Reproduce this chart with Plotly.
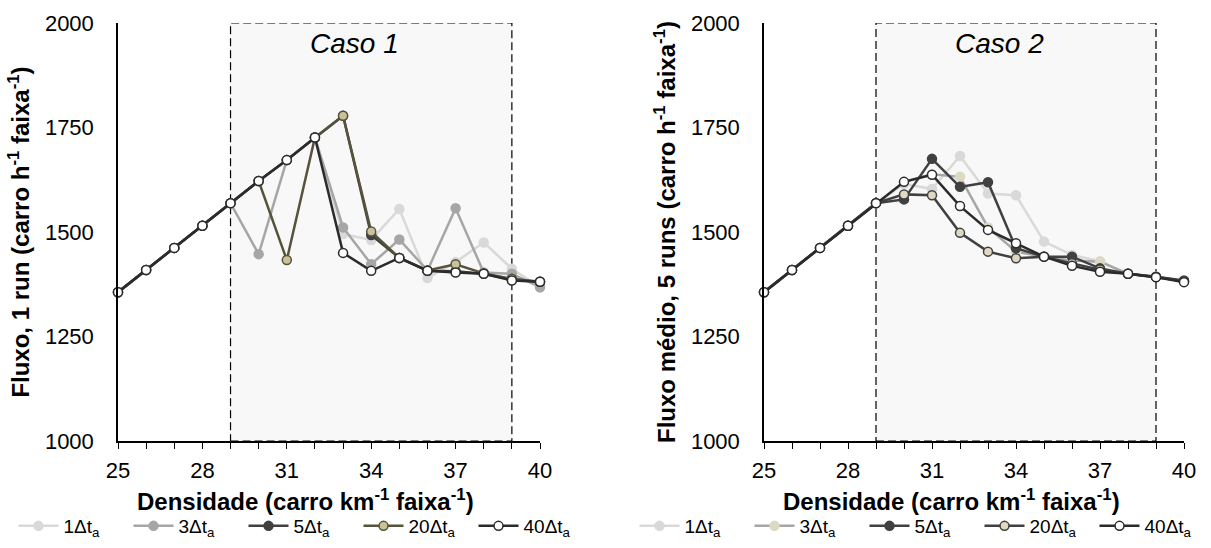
import plotly.graph_objects as go

# Densidade (carro/km/faixa)
densidade = list(range(25, 41))

# Rótulos da legenda
rotulos = ["1Δt<sub>a</sub>", "3Δt<sub>a</sub>", "5Δt<sub>a</sub>", "20Δt<sub>a</sub>", "40Δt<sub>a</sub>"]

# Caso 1: fluxo de 1 run
caso1_1dt = [1356, 1409, 1462, 1515, 1569, 1622, 1672, 1726, 1495, 1481, 1555, 1390, 1428, 1475, 1412, 1368]
caso1_3dt = [1356, 1409, 1462, 1515, 1569, 1447, 1672, 1726, 1511, 1423, 1482, 1408, 1557, 1403, 1400, 1368]
caso1_5dt = [1356, 1409, 1462, 1515, 1569, 1622, 1672, 1726, 1778, 1493, 1438, 1407, 1406, 1400, 1386, 1381]
caso1_20dt = [1356, 1409, 1462, 1515, 1569, 1622, 1433, 1726, 1778, 1501, 1438, 1408, 1423, 1401, 1388, 1381]
caso1_40dt = [1356, 1409, 1462, 1515, 1569, 1622, 1672, 1726, 1450, 1407, 1438, 1407, 1403, 1400, 1384, 1381]

# Caso 2: fluxo médio de 5 runs
caso2_1dt = [1356, 1409, 1462, 1515, 1569, 1615, 1603, 1682, 1592, 1588, 1477, 1445, 1430, 1400, 1393, 1382]
caso2_3dt = [1356, 1409, 1462, 1515, 1569, 1620, 1638, 1632, 1511, 1453, 1441, 1432, 1429, 1400, 1393, 1382]
caso2_5dt = [1356, 1409, 1462, 1515, 1569, 1578, 1675, 1608, 1619, 1461, 1441, 1441, 1413, 1400, 1393, 1384]
caso2_20dt = [1356, 1409, 1462, 1515, 1569, 1590, 1588, 1498, 1453, 1437, 1441, 1425, 1410, 1400, 1392, 1382]
caso2_40dt = [1356, 1409, 1462, 1515, 1569, 1620, 1637, 1562, 1505, 1473, 1441, 1419, 1405, 1400, 1392, 1380]

# Estilos (cor da linha, preenchimento do marcador, contorno do marcador)
estilo1 = [
    ("#d9d9d9", "#d9d9d9", "#d9d9d9"),
    ("#a6a6a6", "#a6a6a6", "#a6a6a6"),
    ("#404040", "#404040", "#404040"),
    ("#57533b", "#c9c29b", "#57533b"),
    ("#2b2b2b", "#ffffff", "#2b2b2b"),
]
estilo2 = [
    ("#d9d9d9", "#d9d9d9", "#d9d9d9"),
    ("#a6a6a6", "#ddd9c3", "#ddd9c3"),
    ("#404040", "#404040", "#404040"),
    ("#404040", "#ddd9c3", "#404040"),
    ("#2b2b2b", "#ffffff", "#2b2b2b"),
]

FONT = "Liberation Sans, Arial, sans-serif"

fig = go.Figure()

paineis = [
    ([caso1_1dt, caso1_3dt, caso1_5dt, caso1_20dt, caso1_40dt], estilo1, "x", "y", "legend"),
    ([caso2_1dt, caso2_3dt, caso2_5dt, caso2_20dt, caso2_40dt], estilo2, "x2", "y2", "legend2"),
]

for series, estilos, xa, ya, leg in paineis:
    for nome, valores, (cl, cf, co) in zip(rotulos, series, estilos):
        fig.add_trace(go.Scatter(
            x=densidade, y=valores, name=nome, mode="lines+markers",
            xaxis=xa, yaxis=ya, legend=leg, cliponaxis=False,
            line=dict(color=cl, width=2.5),
            marker=dict(size=9, color=cf, line=dict(color=co, width=1.5)),
        ))

dom_x1 = [118 / 1211, 540 / 1211]
dom_x2 = [764 / 1211, 1184 / 1211]
dom_y = [1 - 441 / 548, 1 - 23 / 548]

eixo_x = dict(
    range=[25, 40], showline=True, linecolor="black", linewidth=1.5,
    showgrid=False, zeroline=False, automargin=False,
    tickmode="array", tickvals=[25, 28, 31, 34, 37, 40],
    ticks="outside", ticklen=6, tickwidth=1.2, tickcolor="black",
    minor=dict(ticks="outside", dtick=1, ticklen=6, tickwidth=1.2, tickcolor="black", showgrid=False),
    ticklabelstandoff=3,
    tickfont=dict(family=FONT, size=22, color="black"),
)
eixo_x_in = dict(
    range=[25, 40], showline=False, showgrid=False, zeroline=False, automargin=False,
    tickmode="linear", tick0=25, dtick=1, ticks="inside", ticklen=5,
    tickwidth=1.2, tickcolor="black", showticklabels=False,
)
eixo_y = dict(
    range=[1000, 2000], showline=True, linecolor="black", linewidth=1.5,
    showgrid=False, zeroline=False, automargin=False,
    tickmode="array", tickvals=[1000, 1250, 1500, 1750, 2000], ticks="",
    ticklabelstandoff=18,
    tickfont=dict(family=FONT, size=22, color="black"),
)

legenda = dict(orientation="h", y=1 - 526 / 548, yanchor="middle", xanchor="center",
               font=dict(family=FONT, size=19, color="black"), itemwidth=40, entrywidth=60,
               bgcolor="rgba(0,0,0,0)", tracegroupgap=0)

fig.update_layout(
    width=1211, height=548,
    margin=dict(l=0, r=0, t=0, b=0, autoexpand=False),
    paper_bgcolor="white", plot_bgcolor="rgba(0,0,0,0)",
    font=dict(family=FONT, color="black"),
    xaxis=dict(eixo_x, domain=dom_x1, anchor="y"),
    xaxis2=dict(eixo_x, domain=dom_x2, anchor="y2"),
    xaxis3=dict(eixo_x_in, domain=dom_x1, anchor="y", overlaying="x"),
    xaxis4=dict(eixo_x_in, domain=dom_x2, anchor="y2", overlaying="x2"),
    yaxis=dict(eixo_y, domain=dom_y, anchor="x",
               title=dict(text="<b>Fluxo, 1 run (carro h<sup>-1</sup> faixa<sup>-1</sup>)</b>",
                          font=dict(family=FONT, size=24, color="black"), standoff=8)),
    yaxis2=dict(eixo_y, domain=dom_y, anchor="x2",
                title=dict(text="<b>Fluxo médio, 5 runs (carro h<sup>-1</sup> faixa<sup>-1</sup>)</b>",
                           font=dict(family=FONT, size=24, color="black"), standoff=8)),
    legend=dict(legenda, x=301 / 1211),
    legend2=dict(legenda, x=922 / 1211),
    showlegend=True,
)

# Região de análise (densidade 29 a 39)
for xr, yr in [("x", "y"), ("x2", "y2")]:
    fig.add_shape(type="rect", xref=xr, yref=yr, x0=29, x1=39, y0=1000, y1=2000,
                  fillcolor="#f8f8f8", line=dict(color="black", width=1.2, dash="8px,4px"),
                  layer="below")

fig.add_annotation(x=33.4, y=1952, xref="x", yref="y", text="<i>Caso 1</i>", showarrow=False,
                   font=dict(family=FONT, size=28, color="black"))
fig.add_annotation(x=33.4, y=1952, xref="x2", yref="y2", text="<i>Caso 2</i>", showarrow=False,
                   font=dict(family=FONT, size=28, color="black"))

# Títulos do eixo x, centrados sob cada gráfico
titulo_x = "<b>Densidade (carro km<sup>-1</sup> faixa<sup>-1</sup>)</b>"
for cx in (305, 951):
    fig.add_annotation(x=cx / 1211, y=1 - 500 / 548, xref="paper", yref="paper",
                       xanchor="center", yanchor="middle", text=titulo_x, showarrow=False,
                       font=dict(family=FONT, size=24, color="black"))

fig.write_html("out.html")
